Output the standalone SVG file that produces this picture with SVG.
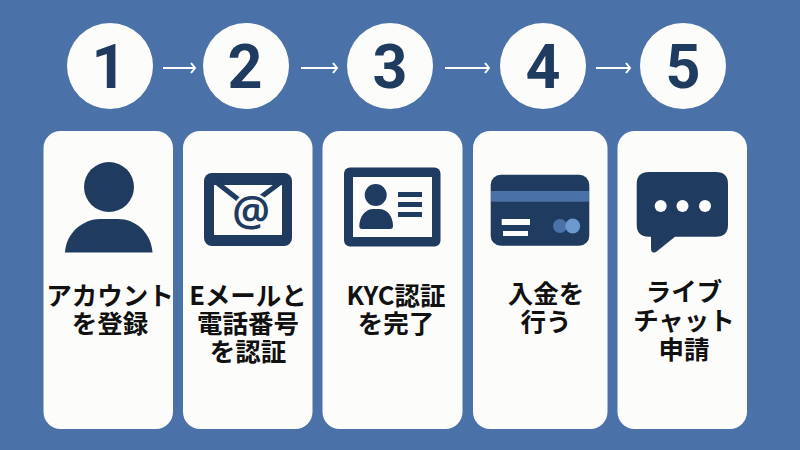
<svg xmlns="http://www.w3.org/2000/svg" width="800" height="450" viewBox="0 0 800 450">
<defs>
<style>
.c{fill:#fcfcfb}
.d{fill:#1f3b60}
.n{font:700 61px Roboto,"Liberation Sans",sans-serif;fill:#1f3b60;text-anchor:middle}
.t{font:700 25.500px "Noto Sans CJK JP","Noto Sans",sans-serif;fill:#111;text-anchor:middle}
.a{fill:none;stroke:#fcfcfb;stroke-width:2;marker-end:url(#h)}
</style>
<marker id="h" markerUnits="userSpaceOnUse" markerWidth="10" markerHeight="14" refX="8" refY="7" orient="auto"><path d="M4 2L8 7L4 12" fill="none" stroke="#fcfcfb" stroke-width="2"/></marker>
</defs>
<rect width="800" height="450" fill="#4a72a8"/>
<g id="connectors">
<path class="a" d="M163 68H195"/>
<path class="a" d="M301 68H337"/>
<path class="a" d="M445 68H489"/>
<path class="a" d="M596 68H630"/>
</g>
<g id="step1">
<circle class="c" cx="110" cy="66" r="43"/><text class="n" x="109" y="88">1</text>
<rect class="c" x="43.500" y="131" width="129.500" height="298" rx="17"/>
<circle class="d" cx="109" cy="187" r="25"/>
<path class="d" d="M65 252.500C66 232 84 219 100 219H118C135 219 151 232 152.500 252.500Z"/>
<text class="t" x="110" y="305"><tspan x="110">アカウント</tspan><tspan x="110" dy="28">を登録</tspan></text>
</g>
<g id="step2">
<circle class="c" cx="246" cy="66" r="43"/><text class="n" x="245" y="88">2</text>
<rect class="c" x="183" y="131" width="129.500" height="298" rx="17"/>
<rect class="d" x="204" y="173" width="88" height="73" rx="8"/>
<rect class="c" x="214" y="185" width="68" height="50"/>
<path d="M216 182L248 207L281 182" fill="none" stroke="#1f3b60" stroke-width="5"/>
<text x="251" y="226" font-family="Noto Sans, sans-serif" font-size="42" font-weight="600" fill="#1f3b60" stroke="#fcfcfb" stroke-width="5" paint-order="stroke" text-anchor="middle">@</text>
<text class="t" x="248" y="305"><tspan x="248">Eメールと</tspan><tspan x="248" dy="28">電話番号</tspan><tspan x="248" dy="28">を認証</tspan></text>
</g>
<g id="step3">
<circle class="c" cx="390" cy="66" r="43"/><text class="n" x="390" y="88">3</text>
<rect class="c" x="322.500" y="131" width="140" height="298" rx="17"/>
<rect class="d" x="344" y="167.500" width="96.500" height="79" rx="6"/>
<rect class="c" x="353" y="177" width="79" height="60"/>
<circle class="d" cx="375.700" cy="195" r="11"/>
<path class="d" d="M359.300 226C359.300 216 366 209 373 209H379C387 209 393 216 393 226Q393 229 390 229H362Q359.300 229 359.300 226Z"/>
<path class="d" d="M398 192h24v5h-24zM398 202h24v5h-24zM398 212h24v5h-24z"/>
<text class="t" x="396" y="305"><tspan x="396">KYC認証</tspan><tspan x="396" dy="28">を完了</tspan></text>
</g>
<g id="step4">
<circle class="c" cx="543" cy="66" r="43"/><text class="n" x="543" y="88">4</text>
<rect class="c" x="473" y="131" width="134.500" height="298" rx="17"/>
<rect class="d" x="490.700" y="174.700" width="98.600" height="71" rx="10"/>
<rect x="491" y="191" width="98" height="10.700" fill="#4a72a8"/>
<rect class="c" x="501.700" y="219" width="28.300" height="6"/>
<rect class="c" x="503" y="231" width="25" height="5"/>
<circle cx="560" cy="226" r="7" fill="#4a72a8"/>
<circle cx="572.700" cy="226" r="7.500" fill="#6c98cf"/>
<text class="t" x="546" y="303"><tspan x="546">入金を</tspan><tspan x="546" dy="28">行う</tspan></text>
</g>
<g id="step5">
<circle class="c" cx="683" cy="66" r="43"/><text class="n" x="683" y="88">5</text>
<rect class="c" x="617.500" y="131" width="129.500" height="298" rx="17"/>
<path class="d" d="M649 172H716Q728 172 728 184V224.700Q728 236.700 716 236.700H675L656 252Q651 254 651 248V236.700H649Q636.700 236.700 636.700 224.700V184Q636.700 172 649 172Z"/>
<circle class="c" cx="660.700" cy="206" r="6"/><circle class="c" cx="682.500" cy="206" r="6"/><circle class="c" cx="705" cy="206" r="6"/>
<text class="t" x="684" y="301"><tspan x="684">ライブ</tspan><tspan x="684" dy="29">チャット</tspan><tspan x="684" dy="29">申請</tspan></text>
</g>
</svg>
